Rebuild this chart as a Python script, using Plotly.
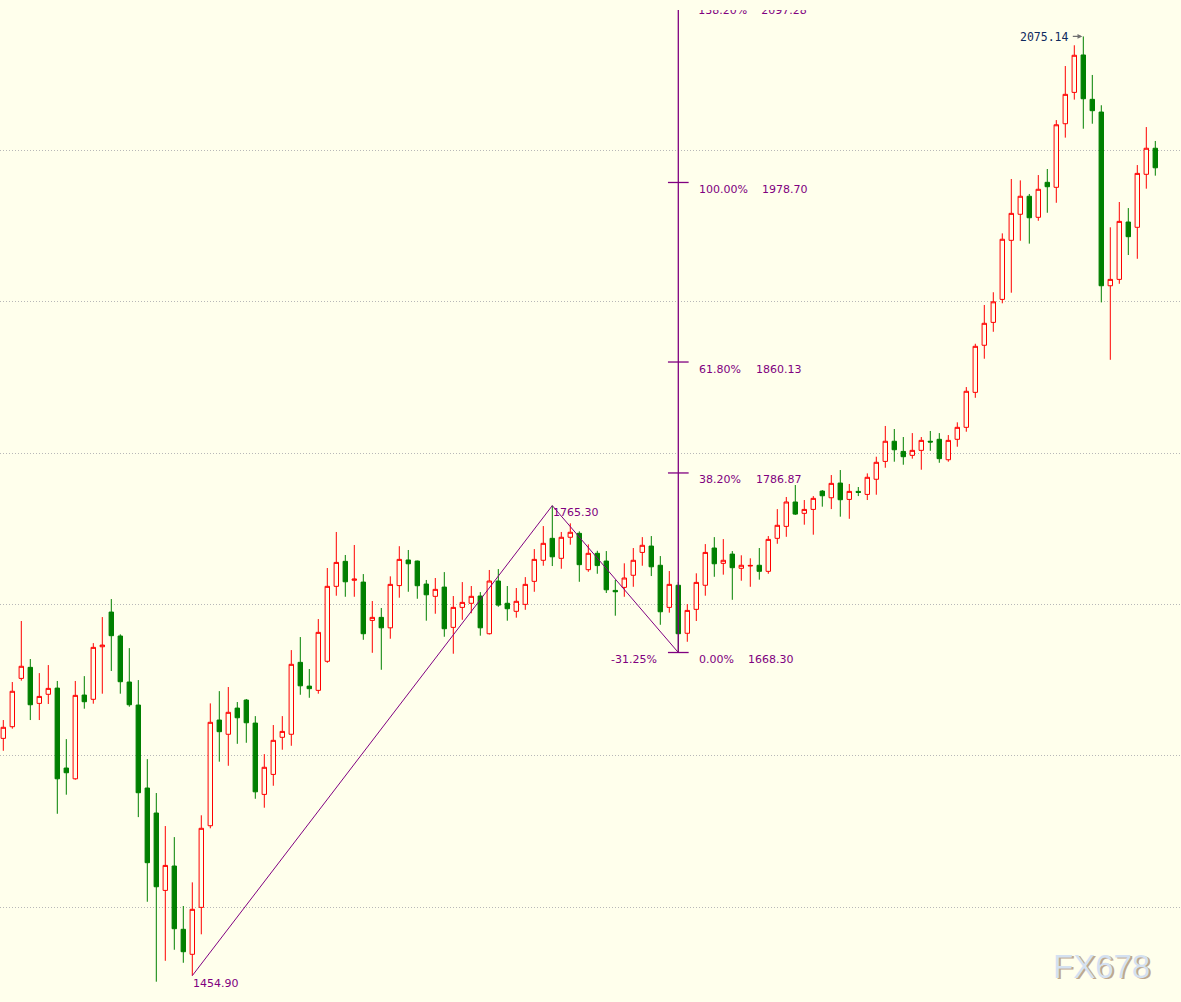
import plotly.graph_objects as go

# ---------------- data ----------------
opens = [1611.6, 1619.3, 1651.2, 1658.5, 1634.7, 1640.7, 1644.8, 1592.0, 1584.9, 1640.2,
         1637.4, 1672.1, 1695.0, 1679.2, 1648.8, 1633.6, 1578.8, 1562.3, 1511.2, 1527.3,
         1485.5, 1469.0, 1500.0, 1553.9, 1623.7, 1614.3, 1631.6, 1636.9, 1621.7, 1574.6,
         1587.8, 1612.3, 1614.3, 1661.8, 1646.1, 1643.3, 1662.5, 1712.0, 1728.5, 1716.0,
         1714.8, 1689.5, 1691.5, 1684.6, 1712.5, 1729.4, 1728.7, 1713.5, 1705.4, 1711.5,
         1684.9, 1698.1, 1700.8, 1705.6, 1680.7, 1715.5, 1700.8, 1695.5, 1700.1, 1715.3,
         1729.2, 1743.7, 1730.5, 1744.4, 1747.0, 1723.0, 1733.8, 1728.7, 1709.3, 1711.3,
         1719.3, 1734.4, 1738.6, 1725.9, 1698.1, 1712.7, 1681.0, 1696.8, 1712.7, 1737.3,
         1727.2, 1733.3, 1723.9, 1725.4, 1725.9, 1721.9, 1743.7, 1751.6, 1767.7, 1760.2,
         1762.8, 1774.9, 1770.5, 1780.2, 1769.4, 1774.7, 1772.7, 1782.7, 1794.5, 1807.8,
         1801.1, 1798.5, 1801.8, 1807.8, 1809.1, 1795.6, 1809.1, 1817.0, 1840.1, 1871.2,
         1886.3, 1901.5, 1940.5, 1957.7, 1969.6, 1955.7, 1978.8, 1975.5, 2017.5, 2038.2,
         2062.9, 2033.6, 2025.2, 1910.5, 1914.7, 1952.6, 1949.1, 1984.1, 2001.3]
highs = [1623.7, 1648.8, 1689.1, 1664.0, 1654.7, 1660.0, 1649.5, 1611.1, 1649.5, 1652.7,
         1674.5, 1691.7, 1703.6, 1680.3, 1671.2, 1650.1, 1597.9, 1575.5, 1553.7, 1546.4,
         1500.9, 1516.5, 1560.8, 1634.7, 1642.8, 1645.5, 1635.6, 1637.6, 1626.3, 1601.2,
         1620.4, 1626.3, 1669.9, 1678.5, 1657.4, 1690.4, 1724.1, 1747.9, 1732.7, 1739.3,
         1720.1, 1702.3, 1697.7, 1718.6, 1738.5, 1736.0, 1729.0, 1716.2, 1717.5, 1721.4,
         1705.6, 1714.8, 1712.2, 1708.2, 1722.8, 1723.4, 1712.2, 1710.9, 1718.1, 1736.6,
         1751.8, 1765.3, 1747.9, 1753.6, 1748.3, 1739.7, 1735.5, 1735.3, 1716.2, 1727.2,
         1737.3, 1744.5, 1745.2, 1732.0, 1722.1, 1714.8, 1700.3, 1720.6, 1739.9, 1744.5,
         1743.2, 1735.3, 1732.5, 1730.5, 1737.3, 1745.2, 1763.0, 1771.0, 1778.9, 1769.0,
         1771.6, 1775.6, 1785.5, 1788.8, 1779.6, 1777.6, 1786.6, 1797.6, 1817.9, 1815.9,
         1810.6, 1813.2, 1810.6, 1814.6, 1813.2, 1811.9, 1820.3, 1843.6, 1872.2, 1897.8,
         1906.2, 1945.1, 1981.0, 1980.1, 1971.1, 1983.6, 1987.6, 2019.9, 2055.6, 2069.3,
         2075.14, 2049.7, 2029.7, 1949.1, 1965.8, 1961.8, 1990.2, 2015.3, 2006.1]
lows = [1603.4, 1618.0, 1649.7, 1623.7, 1623.7, 1634.3, 1561.8, 1574.4, 1584.3, 1631.2,
        1634.5, 1641.1, 1656.1, 1641.1, 1632.5, 1559.6, 1503.7, 1450.9, 1464.7, 1472.0,
        1463.4, 1454.9, 1482.2, 1552.2, 1596.2, 1593.5, 1608.0, 1608.7, 1571.7, 1565.8,
        1580.3, 1604.1, 1606.7, 1640.4, 1638.4, 1641.1, 1661.5, 1705.8, 1705.1, 1705.1,
        1676.7, 1668.1, 1656.9, 1677.4, 1704.5, 1708.4, 1703.8, 1689.3, 1693.9, 1678.7,
        1667.5, 1689.9, 1694.2, 1679.4, 1680.2, 1698.5, 1689.3, 1691.3, 1696.5, 1708.4,
        1725.6, 1725.4, 1723.6, 1739.5, 1715.0, 1721.6, 1720.3, 1707.6, 1692.6, 1705.1,
        1711.7, 1725.6, 1718.8, 1686.6, 1694.6, 1668.3, 1675.4, 1689.1, 1705.8, 1718.3,
        1719.7, 1703.1, 1715.7, 1711.7, 1716.4, 1720.3, 1740.1, 1744.7, 1759.1, 1752.7,
        1746.1, 1764.6, 1763.0, 1758.0, 1756.6, 1771.6, 1769.0, 1772.5, 1790.3, 1794.3,
        1792.3, 1796.3, 1789.0, 1801.5, 1793.6, 1794.3, 1804.2, 1814.1, 1836.5, 1862.3,
        1880.1, 1898.9, 1905.9, 1940.2, 1938.3, 1953.4, 1958.7, 1965.3, 2008.3, 2033.4,
        2014.2, 2017.5, 1899.5, 1861.6, 1911.8, 1930.8, 1928.3, 1974.6, 1983.2]
closes = [1618.9, 1642.7, 1659.2, 1633.8, 1639.3, 1644.6, 1584.9, 1588.9, 1640.0, 1635.8,
          1671.7, 1673.2, 1679.4, 1649.0, 1633.8, 1575.7, 1529.5, 1513.6, 1527.7, 1485.9,
          1470.7, 1498.7, 1552.2, 1622.2, 1616.0, 1628.8, 1625.2, 1621.9, 1576.3, 1592.5,
          1610.3, 1616.2, 1660.5, 1646.3, 1644.4, 1681.6, 1712.0, 1727.8, 1715.0, 1716.8,
          1680.7, 1691.5, 1684.6, 1713.3, 1729.8, 1726.9, 1712.4, 1706.4, 1710.0, 1684.0,
          1698.1, 1701.4, 1705.4, 1684.6, 1715.5, 1699.6, 1697.2, 1702.1, 1713.3, 1729.8,
          1740.4, 1731.5, 1744.4, 1747.7, 1726.3, 1733.8, 1725.7, 1709.7, 1708.4, 1717.5,
          1729.2, 1739.1, 1724.9, 1695.2, 1713.3, 1680.7, 1696.1, 1714.6, 1734.4, 1726.9,
          1729.2, 1724.3, 1725.9, 1725.8, 1721.9, 1743.0, 1752.3, 1767.7, 1759.7, 1762.8,
          1770.1, 1771.8, 1780.0, 1769.2, 1774.7, 1774.0, 1784.0, 1793.9, 1807.8, 1802.2,
          1797.6, 1801.8, 1808.4, 1807.3, 1796.3, 1808.4, 1817.0, 1840.8, 1870.5, 1885.7,
          1899.9, 1941.2, 1958.3, 1969.6, 1955.4, 1974.2, 1975.9, 2016.8, 2036.9, 2062.7,
          2034.0, 2026.1, 1910.5, 1914.7, 1953.0, 1942.9, 1984.7, 2001.3, 1988.4]
bar_index = list(range(len(opens)))

# swing points of the drawn wave (bar index, price, label)
swing_idx = [21, 61, 75]
swing_val = [1454.90, 1765.30, 1668.30]
swing_lbl = ["1454.90", "1765.30", "-31.25%"]

# fibonacci projection levels
fib_pct = ["0.00%", "38.20%", "61.80%", "100.00%", "138.20%"]
fib_val = [1668.30, 1786.87, 1860.13, 1978.70, 2097.28]
fib_txt = ["1668.30", "1786.87", "1860.13", "1978.70", "2097.28"]

high_label = "2075.14"
watermark = "FX678"

# ---------------- style ----------------
BG = "#FFFFEC"
RED = "#FF0000"
GREEN = "#008000"
PURPLE = "#800080"
LBL_FONT = dict(family="DejaVu Sans", size=11, color=PURPLE)

fig = go.Figure()

fig.add_trace(go.Candlestick(
    x=bar_index, open=opens, high=highs, low=lows, close=closes,
    increasing=dict(line=dict(color=RED, width=1), fillcolor=BG),
    decreasing=dict(line=dict(color=GREEN, width=1), fillcolor=GREEN),
    whiskerwidth=0, showlegend=False, hoverinfo="skip",
))

# wave lines
fig.add_trace(go.Scatter(x=swing_idx, y=swing_val, mode="lines",
                         line=dict(color=PURPLE, width=1), hoverinfo="skip", showlegend=False))

anchor = swing_idx[2]
# vertical fib line
fig.add_trace(go.Scatter(x=[anchor, anchor], y=[fib_val[0], fib_val[-1]], mode="lines",
                         line=dict(color=PURPLE, width=1.3), hoverinfo="skip", showlegend=False))
# level ticks
tx, ty = [], []
half = 1.15
for v in fib_val:
    tx += [anchor - half, anchor + half, None]
    ty += [v, v, None]
fig.add_trace(go.Scatter(x=tx, y=ty, mode="lines", line=dict(color=PURPLE, width=1.3),
                         hoverinfo="skip", showlegend=False, cliponaxis=True))

annotations = []
pct_shift = 20
val_shift = [69, 77, 77, 83, 83]
for k in range(len(fib_val) - 1):
    annotations.append(dict(x=anchor, y=fib_val[k], xref="x", yref="y", text=fib_pct[k],
                            showarrow=False, xanchor="left", yanchor="middle",
                            xshift=pct_shift, yshift=-7, font=LBL_FONT, borderpad=0))
    annotations.append(dict(x=anchor, y=fib_val[k], xref="x", yref="y", text=fib_txt[k],
                            showarrow=False, xanchor="left", yanchor="middle",
                            xshift=val_shift[k], yshift=-7, font=LBL_FONT, borderpad=0))

# top level label, clipped by the plot area like in the reference
fig.add_trace(go.Scatter(
    x=[anchor + pct_shift / 9.0, anchor + val_shift[-1] / 9.0],
    y=[fib_val[-1] - 2.0, fib_val[-1] - 2.0], mode="text",
    text=[fib_pct[-1], fib_txt[-1]], textposition="bottom right",
    textfont=LBL_FONT, cliponaxis=True, hoverinfo="skip", showlegend=False))

# swing labels
annotations.append(dict(x=swing_idx[0], y=swing_val[0], text=swing_lbl[0], showarrow=False,
                        xanchor="left", yanchor="middle", xshift=0, yshift=-8,
                        font=LBL_FONT, borderpad=0))
annotations.append(dict(x=swing_idx[1], y=swing_val[1], text=swing_lbl[1], showarrow=False,
                        xanchor="left", yanchor="middle", xshift=0, yshift=-7,
                        font=LBL_FONT, borderpad=0))
annotations.append(dict(x=swing_idx[2], y=swing_val[2], text=swing_lbl[2], showarrow=False,
                        xanchor="right", yanchor="middle", xshift=-20, yshift=-7,
                        font=LBL_FONT, borderpad=0))

# highest price label with arrow
hi_i = highs.index(max(highs))
annotations.append(dict(x=hi_i, y=highs[hi_i], text=high_label, showarrow=False,
                        xanchor="right", yanchor="middle", xshift=-13, yshift=-1,
                        font=dict(family="DejaVu Sans Mono", size=11.5, color="#0E2A5E"),
                        borderpad=0))
annotations.append(dict(x=hi_i, y=highs[hi_i], text="", showarrow=True, ax=-12, ay=0,
                        arrowhead=2, arrowsize=0.8, arrowwidth=1.2, arrowcolor="#707070",
                        standoff=1))

# watermark
annotations.append(dict(x=0.9340, y=0.0345, xref="paper", yref="paper", text=watermark,
                        showarrow=False, font=dict(family="Liberation Sans", size=33, color="#BFA88E"),
                        xanchor="center", yanchor="middle"))
annotations.append(dict(x=0.9327, y=0.0360, xref="paper", yref="paper", text=watermark,
                        showarrow=False, font=dict(family="Liberation Sans", size=33, color="#D4E1F1"),
                        xanchor="center", yanchor="middle"))

fig.update_layout(
    width=1181, height=1002,
    margin=dict(l=0, r=0, t=10, b=0, pad=0),
    paper_bgcolor=BG, plot_bgcolor=BG,
    showlegend=False,
    boxgap=0.3,
    annotations=annotations,
    xaxis=dict(range=[-0.367, 130.856], showgrid=False, zeroline=False, showticklabels=False,
               showline=False, ticks="", rangeslider=dict(visible=False), fixedrange=True),
    yaxis=dict(range=[1437.5, 2092.6], dtick=100, tick0=1500, showgrid=True,
               gridcolor="#B8B8B8", griddash="1px,2px", gridwidth=1, zeroline=False,
               showticklabels=False, showline=False, ticks="", fixedrange=True),
)

fig.write_html(
    "out.html",
    config={"displayModeBar": False},
    post_script="document.body.style.margin='0';document.body.style.overflow='hidden';"
                "document.body.style.background='" + BG + "';",
)
